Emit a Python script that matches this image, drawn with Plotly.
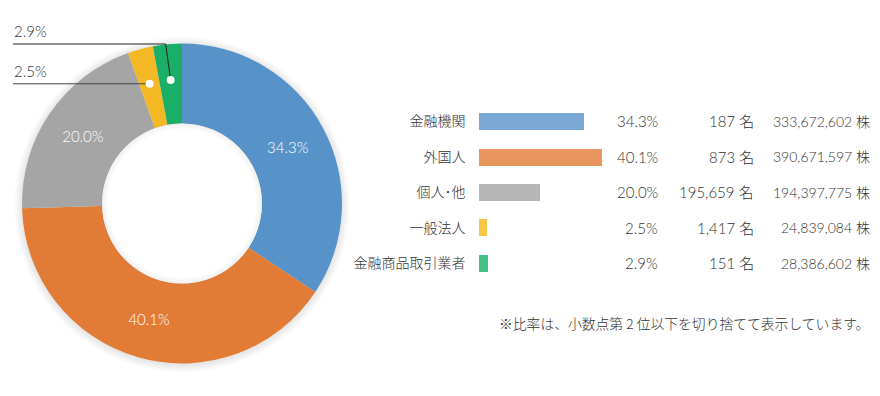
import math
import plotly.graph_objects as go

# ---------------- data ----------------
categories = ["金融機関", "外国人", "個人･他", "一般法人", "金融商品取引業者"]
pct_labels = ["34.3%", "40.1%", "20.0%", "2.5%", "2.9%"]
pct_values = [34.3, 40.1, 20.0, 2.5, 2.9]
holders = ["187", "873", "195,659", "1,417", "151"]
shares = [333672602, 390671597, 194397775, 24839084, 28386602]
pie_colors = ["#5793C8", "#E27B35", "#A5A5A5", "#F3B823", "#19AF66"]
bar_colors = ["#79A8D4", "#E8965E", "#B7B7B7", "#F7C846", "#45C187"]
note = "※比率は、小数点第 2 位以下を切り捨てて表示しています。"

W, H = 880, 396
OFF = 8  # page body margin compensation
FONT = "Noto Sans CJK JP"
NUMFONT = "Lato, Noto Sans CJK JP"
TXT = "#333333"

def px(x):
    return (x - OFF) / W

def py(y):
    return 1 - (y - OFF) / H

# pie geometry (px, in window coordinates)
CX, CY, R = 182, 203.5, 160
HOLE = 0.5

fig = go.Figure()

fig.add_trace(go.Pie(
    values=shares,
    labels=categories,
    text=[pct_labels[0], pct_labels[1], pct_labels[2], "", ""],
    textinfo="text",
    textposition="inside",
    insidetextorientation="horizontal",
    textfont=dict(family=NUMFONT, size=15, color="white", weight=300),
    marker=dict(colors=pie_colors, line=dict(width=0)),
    hole=HOLE,
    sort=False,
    direction="clockwise",
    rotation=0,
    showlegend=False,
    domain=dict(x=[px(CX - R), px(CX + R)], y=[py(CY + R), py(CY - R)]),
))

# table bars
ROW0, ROWSTEP = 121.5, 35.4
BAR_X0, PX_PER = 478.5, 3.07
XMAX = 50
fig.add_trace(go.Bar(
    x=pct_values,
    y=list(range(len(categories))),
    orientation="h",
    marker=dict(color=bar_colors, line=dict(width=0)),
    width=0.48,
    showlegend=False,
    hoverinfo="skip",
))

fig.update_xaxes(domain=[px(BAR_X0), px(BAR_X0 + XMAX * PX_PER)], range=[0, XMAX],
                 showgrid=False, zeroline=False, showline=False, showticklabels=False)
fig.update_yaxes(domain=[py(ROW0 + 4 * ROWSTEP + ROWSTEP / 2), py(ROW0 - ROWSTEP / 2)],
                 range=[4.5, -0.5], tickvals=list(range(len(categories))), ticktext=categories,
                 showgrid=False, zeroline=False, showline=False, ticks="",
                 ticklabelstandoff=12,
                 tickfont=dict(family=FONT, size=14, color=TXT, weight=300))

annotations = []
for i in range(len(categories)):
    annotations.append(dict(x=px(660), y=i, xref="paper", yref="y", text=pct_labels[i],
                            xanchor="right", yanchor="middle", showarrow=False,
                            font=dict(family=NUMFONT, size=15, color=TXT, weight=300)))
    annotations.append(dict(x=px(756), y=i, xref="paper", yref="y", text=f"{holders[i]} 名",
                            xanchor="right", yanchor="middle", showarrow=False,
                            font=dict(family=NUMFONT, size=15, color=TXT, weight=300)))
    annotations.append(dict(x=px(872), y=i, xref="paper", yref="y", text=f"{shares[i]:,} 株",
                            xanchor="right", yanchor="middle", showarrow=False,
                            font=dict(family=NUMFONT, size=14, color=TXT, weight=300)))

annotations.append(dict(x=px(497), y=py(323), xref="paper", yref="paper", text=note,
                        xanchor="left", yanchor="middle", showarrow=False,
                        font=dict(family=FONT, size=13.8, color=TXT, weight=300)))

# leader lines for small slices, positioned from slice mid-angles
total = sum(shares)
cum = 0
mids = []
for s in shares:
    mids.append((cum + s / 2) / total * 2 * math.pi)
    cum += s
RD = 124
def dot_pos(i):
    a = mids[i]
    return CX + RD * math.sin(a), CY - RD * math.cos(a)

shapes = []
# soft outer shadow
for k in range(1, 9):
    r = R + k
    shapes.append(dict(type="circle", xref="paper", yref="paper", layer="below",
                       x0=px(CX - r), x1=px(CX + r), y0=py(CY + r + 1), y1=py(CY - r + 1),
                       fillcolor="rgba(0,0,0,0.012)", line=dict(width=0)))
# white hole + inner shadow
RH = R * HOLE
shapes.append(dict(type="circle", xref="paper", yref="paper", layer="above",
                   x0=px(CX - RH), x1=px(CX + RH), y0=py(CY + RH), y1=py(CY - RH),
                   fillcolor="white", line=dict(width=0)))
for k in range(0, 6):
    r = RH - k * 1.2
    shapes.append(dict(type="circle", xref="paper", yref="paper", layer="above",
                       x0=px(CX - r), x1=px(CX + r), y0=py(CY + r), y1=py(CY - r),
                       fillcolor="rgba(0,0,0,0)",
                       line=dict(width=1.5, color=f"rgba(0,0,0,{0.05 * (1 - k / 6):.3f})")))

# 2.9% (green, index 4)
gx, gy = dot_pos(4)
top_y = CY - R + 0.5
shapes.append(dict(type="path", xref="paper", yref="paper", layer="above",
                   path=f"M {px(13)} {py(top_y)} L {px(gx - 5)} {py(top_y)} L {px(gx)} {py(gy)}",
                   line=dict(color="#222222", width=1)))
# 2.5% (yellow, index 3)
yx, yy = dot_pos(3)
shapes.append(dict(type="line", xref="paper", yref="paper", layer="above",
                   x0=px(13), y0=py(yy), x1=px(yx), y1=py(yy),
                   line=dict(color="#444444", width=1)))
for (dx, dy) in [(gx, gy), (yx, yy)]:
    r = 4
    shapes.append(dict(type="circle", xref="paper", yref="paper", layer="above",
                       x0=px(dx - r), x1=px(dx + r), y0=py(dy + r), y1=py(dy - r),
                       fillcolor="white", line=dict(width=0)))

annotations.append(dict(x=px(12), y=py(top_y - 2), xref="paper", yref="paper", text=pct_labels[4],
                        xanchor="left", yanchor="bottom", showarrow=False,
                        font=dict(family=NUMFONT, size=15, color=TXT, weight=300)))
annotations.append(dict(x=px(12), y=py(yy - 2), xref="paper", yref="paper", text=pct_labels[3],
                        xanchor="left", yanchor="bottom", showarrow=False,
                        font=dict(family=NUMFONT, size=15, color=TXT, weight=300)))

fig.update_layout(
    width=W, height=H,
    margin=dict(l=0, r=0, t=0, b=0),
    paper_bgcolor="white", plot_bgcolor="white",
    annotations=annotations, shapes=shapes,
    font=dict(family=FONT, color=TXT),
    bargap=0,
)

fig.write_html("out.html")
